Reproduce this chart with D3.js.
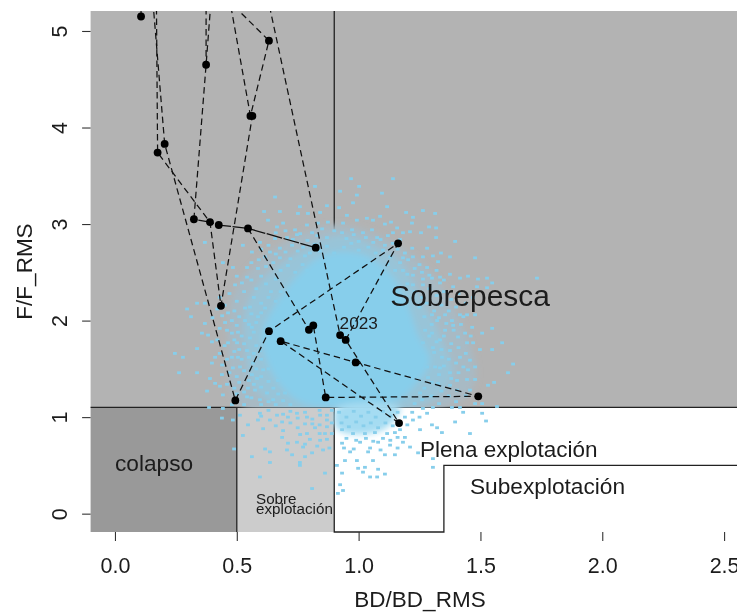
<!DOCTYPE html>
<html><head><meta charset="utf-8">
<style>html,body{margin:0;padding:0;background:#fff;overflow:hidden}text{font-family:"Liberation Sans",Arial,sans-serif;fill:#1c1c1c}svg{filter:blur(.35px)}</style>
<script src="https://cdn.jsdelivr.net/npm/d3@7"></script></head><body>
<svg id="c" width="737" height="612"></svg>
<script>
const xTicks=[0,0.5,1,1.5,2,2.5];
const yTicks=[0,1,2,3,4,5];
const bdLimits=[-0.1,2.553];
const fLimits=[-0.19,5.207];
const bdBreaks={collapse:0.5,over:0.9,under:1.35};
const fBreaks={full:0.5,over:1.1};
const labels=["Sobrepesca","colapso","Plena explotación","Subexplotación","Sobre","explotación","2023"];

// Stock trajectory: [BD/BD_RMS, F/F_RMS]; F=6 lies above the plot and is clipped
const A=[.107,5.15],B=[.374,4.65],C=[.632,4.90],D1=[.556,4.12],D2=[.564,4.12],E=[.204,3.83],F=[.175,3.74],
G=[.324,3.05],H=[.390,3.02],I=[.426,2.99],J=[.546,2.955],K=[.824,2.755],L=[1.162,2.80],M=[.435,2.153],
N=[.632,1.89],O=[.680,1.787],P=[.796,1.905],Q=[.814,1.95],R=[.924,1.85],S=[.947,1.80],T=[.988,1.567],
U=[.865,1.204],V=[1.491,1.215],W=[.494,1.173],X=[1.166,.938];
const years=[A,B,C,D1,D2,E,F,G,H,I,J,K,L,M,N,O,P,Q,R,S,T,U,V,W,X];
const dashedPaths=[
 [J,P,Q,U,V,T,O,X,S,L,N,W,E,[.133,6]],
 [G,B,[.415,6]],
 [[.374,6],B],
 [[.168,6],F,H,M,D2],
 [[.423,6],D1,C,[.193,6]],
 [[.571,6],R],
 [[.107,6],A]
];
const nearSolidPath=[K,J,I,H,G];

// Uncertainty cloud: density outlines and single readable points
const cloudHalo=[[.924,2.99],[1.252,2.61],[1.416,2.0],[1.478,1.38],[1.375,1.12],[.513,1.12],[.464,1.80],[.493,2.32],[.657,2.75]];
const cloudOuter=[[.759,2.72],[.924,2.89],[1.067,2.78],[1.170,2.62],[1.262,2.21],[1.344,1.80],[1.385,1.44],[1.293,1.16],[.677,1.10],[.565,1.33],[.534,1.69],[.534,2.11],[.603,2.42]];
const cloudCore=[[.903,2.71],[1.026,2.68],[1.137,2.47],[1.203,2.16],[1.244,1.85],[1.293,1.59],[1.232,1.33],[1.149,1.155],[.907,1.10],[.759,1.155],[.669,1.36],[.616,1.63],[.603,1.87],[.657,2.16],[.739,2.44],[.821,2.63]];
const cloudBelow=[[.91,1.10],[1.17,1.10],[1.12,.90],[1.02,.82],[.91,.88]];
const cloudPoints=[
[1.141,3.47],[1.096,3.32],[1.117,3.18],[1.195,3.12],[1.264,3.14],[1.314,3.11],[1.223,3.07],[1.219,3.01],[1.289,2.97],[1.318,2.96],[1.318,2.86],[1.396,2.82],[1.256,2.91],[1.211,2.92],[1.182,2.91],[1.281,2.75],[1.375,2.66],[1.478,2.65],[1.338,2.70],[1.326,2.61],[1.305,2.67],[1.264,2.66],[1.223,2.66],[1.182,2.65],[1.281,2.55],[1.375,2.48],[1.416,2.44],[1.449,2.46],[1.490,2.43],[1.527,2.44],[1.548,2.39],[1.732,2.44],[1.486,2.35],[1.527,2.34],[1.388,2.35],[1.334,2.45],[1.301,2.44],[1.264,2.43],[1.223,2.47],[1.059,3.04],[1.088,3.08],[1.133,3.02],[1.141,2.91],[1.158,2.96],[1.108,3.0],[1.076,2.86],[1.108,2.78],[1.055,2.94],[1.334,2.39],[1.264,2.37],[1.223,2.37],[1.182,2.52],[1.203,2.63],
[.657,3.28],[.821,3.39],[.759,3.18],[.969,3.47],[1.002,3.39],[.924,3.34],[.993,3.30],[.977,3.22],[.920,3.17],[.952,3.09],[.870,3.19],[.842,3.12],[.792,3.11],[.751,3.11],[.677,3.13],[.612,3.13],[.628,3.04],[.690,3.01],[.665,2.97],[.739,2.94],[.788,2.99],[.833,3.01],[.936,3.01],[.993,3.04],[1.034,3.06],[.874,3.02],[.369,2.81],[.525,2.78],[.562,2.71],[.484,2.55],[.443,2.60],[.542,2.55],[.595,2.81],[.657,2.85],[.706,2.86],[.747,2.89],[.809,2.91],[.932,2.91],[.973,2.94],[1.018,2.91],[.636,2.71],[.677,2.75],[.727,2.78],[.772,2.76],[.800,2.70],[.521,2.39],[.493,2.37],[.542,2.45],[.587,2.54],[.616,2.66],[.677,2.65],
[.296,2.12],[.337,2.18],[.312,2.04],[.369,2.18],[.369,1.97],[.357,1.87],[.382,1.85],[.246,1.66],[.279,1.62],[.263,1.46],[.337,1.71],[.337,1.46],[.398,1.78],[.398,1.56],[.411,1.62],[.439,1.44],[.390,1.40],[.431,1.32],[.378,1.27],[.411,1.35],[.443,1.23],[.386,1.10],[.443,1.09],[.439,.99],[.464,2.08],[.452,1.98],[.480,1.87],[.464,1.77],[.480,1.62],[.505,1.88],[.501,1.77],[.505,1.62],[.513,1.52],[.484,1.51],[.534,2.13],[.534,2.0],[.554,2.14],[.562,1.93],[.554,1.82],[.542,1.69],[.567,1.56],[.562,1.44],[.546,1.30],[.575,1.28],[.542,1.21],[.595,1.18],[.624,1.25],[.583,1.40],[.608,1.49],[.595,1.69],[.587,2.04],[.616,2.13],[.636,1.75],[.657,1.57],[.669,1.38],[.649,1.18],[.698,1.25],[.665,2.0],[.698,2.0],
[1.589,1.77],[1.634,1.55],[1.613,1.46],[1.556,1.36],[1.531,1.33],[1.548,1.70],[1.548,1.92],[1.507,1.87],[1.466,1.93],[1.470,1.77],[1.498,1.70],[1.445,1.77],[1.416,2.06],[1.383,2.0],[1.408,1.83],[1.416,1.62],[1.457,1.59],[1.478,1.52],[1.449,1.49],[1.404,1.38],[1.445,1.39],[1.478,1.39],[1.375,1.46],[1.334,1.80],[1.375,1.69],[1.342,1.62],[1.355,1.90],[1.322,2.0],[1.301,1.87],[1.305,1.72],[1.314,1.52],[1.285,1.41],[1.326,1.35],[1.375,1.33],[1.404,1.28],[1.457,1.28],[1.478,1.14],[1.507,1.14],[1.568,1.11],[1.416,1.10],[1.383,1.10],[1.305,1.10],[1.264,1.09],[1.252,1.25],[1.281,1.52],[1.260,1.64],[1.264,1.77],[1.273,1.90],[1.355,2.06],[1.301,2.06],[1.478,2.06],[1.445,2.06],[1.388,1.95],[1.437,1.87],[1.334,1.51],
[.484,.97],[.489,.67],[.525,.81],[.513,1.02],[.595,1.04],[.546,.92],[.587,.97],[.608,.88],[.636,.97],[.686,.95],[.665,1.02],[.710,1.0],[.747,1.04],[.788,1.0],[.842,1.02],[.870,.97],[.821,.89],[.788,.83],[.862,.83],[.747,.74],[.772,.69],[.710,.73],[.686,.79],[.842,.76],[.854,.66],[.809,.63],[.706,.66],[.727,.61],[.780,.59],[.759,.53],[.759,.50],[.636,.64],[.616,.67],[.636,.53],[.562,.59],[.595,.38],[.862,.42],[.809,.26],[.924,.30],[.936,.24],[.915,.21],[.911,.50],[.932,.42],[.944,.55],[.993,.55],[.998,.47],[1.026,.48],[1.018,.43],[1.047,.38],[1.076,.38],[1.080,.46],[1.108,.41],[1.059,.55],[1.108,.61],[1.149,.61],[1.039,.64],[1.047,.68],[.965,.64],[.932,.73],[1.006,.74],[1.080,.74],[1.129,.71],[1.182,.74],[1.211,.69],[1.252,.87],[1.244,.63],[1.301,.92],[1.342,.84],[1.305,.57],[1.305,.48],[1.223,.97],[1.281,1.04],[1.322,.89],[1.149,.84],[1.190,.79],[.932,.87],[.977,.83],[1.026,.83],[1.067,.84],[1.117,.83],[1.457,.83],[1.396,.95],[1.507,1.04],[1.523,.96],[1.429,1.05],
[.66,2.91],[.70,2.93],[.73,2.84],[.76,2.90],[.79,2.83],[.83,2.88],[.85,2.95],[.87,2.86],[.90,2.93],[.95,2.85],[.98,2.89],[1.00,2.82],[1.03,2.86],[1.06,2.81],[1.09,2.84],[1.12,2.88],[1.14,2.80],[1.17,2.84],[.60,2.74],[.63,2.78],[.66,2.69],[.70,2.71],[.72,2.64],[.75,2.72],[.78,2.67],[.82,2.79],[.84,2.72],[.87,2.77],[.90,2.70],[.94,2.76],[.97,2.80],[1.00,2.73],[1.04,2.76],[1.07,2.70],[1.10,2.73],[1.13,2.66],[1.16,2.74],[1.19,2.70],[1.22,2.75],[1.25,2.58],
[.56,2.60],[.59,2.63],[.62,2.56],[.65,2.60],[.68,2.52],[.71,2.57],[.74,2.50],[.77,2.58],[.79,2.52],[1.12,2.58],[1.15,2.52],[1.17,2.60],[1.20,2.48],[1.23,2.54],[1.26,2.50],[1.29,2.47],[1.32,2.52],[1.35,2.42],
[.50,2.46],[.53,2.30],[.56,2.42],[.58,2.33],[.60,2.46],[.62,2.38],[.64,2.30],[.66,2.43],[.47,2.28],[.50,2.20],[.43,2.24],[.57,2.24],[.60,2.18],[.63,2.24],[.66,2.20],[.68,2.30],
[.42,2.12],[.45,2.16],[.49,2.10],[.51,2.04],[.56,2.07],[.58,1.98],[.60,2.08],[.44,2.05],[.40,2.03],[.48,2.00],[.43,1.92],[.46,1.90],[.50,1.95],[.52,1.84],[.55,1.96],[.42,1.80],[.45,1.74],[.49,1.80],[.51,1.70],[.53,1.76],[.57,1.88],[.58,1.74],[.43,1.66],[.46,1.60],[.49,1.68],[.52,1.60],[.55,1.62],[.57,1.66],[.60,1.60],[.44,1.54],[.47,1.46],[.50,1.42],[.53,1.48],[.55,1.38],[.58,1.50],[.60,1.42],[.63,1.50],[.46,1.34],[.49,1.30],[.51,1.36],[.53,1.26],[.57,1.34],[.60,1.31],[.63,1.37],[.65,1.30],[.67,1.24],[.50,1.24],[.56,1.20],[.60,1.13],[.63,1.16],[.66,1.13],[.69,1.17],[.72,1.13],[.53,1.13],[.48,1.13],
[1.20,2.38],[1.23,2.30],[1.26,2.24],[1.29,2.33],[1.32,2.26],[1.35,2.30],[1.38,2.22],[1.41,2.28],[1.44,2.18],[1.47,2.24],[1.25,2.14],[1.28,2.18],[1.31,2.10],[1.34,2.16],[1.37,2.10],[1.40,2.14],[1.43,2.04],[1.27,2.04],[1.30,1.96],[1.33,2.03],[1.36,1.97],[1.39,1.90],[1.42,1.96],[1.46,1.84],[1.29,1.84],[1.32,1.78],[1.35,1.84],[1.38,1.76],[1.41,1.72],[1.44,1.66],[1.31,1.67],[1.34,1.70],[1.37,1.60],[1.40,1.56],[1.43,1.52],[1.35,1.53],[1.38,1.40],[1.41,1.46],[1.33,1.44],[1.30,1.36],[1.27,1.30],[1.34,1.27],[1.37,1.22],[1.30,1.22],[1.26,1.18],[1.23,1.14],[1.33,1.14],[1.40,1.16],[1.44,1.22],
[.69,1.03],[.72,1.06],[.75,.99],[.78,1.05],[.81,.98],[.84,1.07],[.87,1.02],[.89,1.07],[.72,.94],[.75,.89],[.78,.93],[.81,.93],[.84,.92],[.87,.90],[.89,.94],[.76,.82],[.80,.77],[.84,.83],[.87,.77],[.89,.83],[.78,.72],[.83,.70],[.88,.68],[.63,1.07],[.66,.91],[.69,.86],[.60,1.01],
[.92,1.05],[.95,1.00],[.98,1.06],[1.01,1.01],[1.04,1.05],[1.07,1.00],[1.10,1.06],[1.13,1.01],[1.16,1.05],[1.19,1.00],[1.22,1.05],[1.25,1.00],[.93,.94],[.96,.90],[.99,.95],[1.02,.91],[1.05,.94],[1.08,.89],[1.11,.94],[1.14,.91],[1.17,.87],[1.20,.92],[.95,.78],[.99,.76],[1.03,.78],[1.06,.75],[1.10,.78],[1.13,.76],[1.16,.79],[.94,.68],[.98,.67],[1.09,.66],[1.16,.68]
];

const x=d3.scaleLinear().domain(bdLimits).range([90.6,737]);
const y=d3.scaleLinear().domain(fLimits).range([532,11]);
const svg=d3.select("#c");
const defs=svg.append("defs");
defs.append("clipPath").attr("id","plot").append("rect").attr("x",x(bdLimits[0])).attr("y",y(fLimits[1])).attr("width",x(bdLimits[1])-x(bdLimits[0])).attr("height",y(fLimits[0])-y(fLimits[1]));
defs.append("clipPath").attr("id","upper").append("rect").attr("x",x(bdLimits[0])).attr("y",y(fLimits[1])).attr("width",x(bdLimits[1])-x(bdLimits[0])).attr("height",y(fBreaks.over)-y(fLimits[1]));
const fl=defs.append("filter").attr("id","soft").attr("x","-20%").attr("y","-20%").attr("width","140%").attr("height","140%");
fl.append("feGaussianBlur").attr("stdDeviation",3);

const box=(bd0,bd1,f0,f1,fill)=>svg.append("rect").attr("x",x(bd0)).attr("y",y(f1)).attr("width",x(bd1)-x(bd0)).attr("height",y(f0)-y(f1)).attr("fill",fill);
box(bdLimits[0],bdLimits[1],fBreaks.over,fLimits[1],"#b3b3b3");
box(bdLimits[0],bdBreaks.collapse,fLimits[0],fBreaks.over,"#999999");
box(bdBreaks.collapse,bdBreaks.over,fLimits[0],fBreaks.over,"#cccccc");

const rule=d=>d3.line().x(p=>x(p[0])).y(p=>y(p[1]))(d);
const frame=svg.append("g").attr("fill","none").attr("stroke","#222").attr("stroke-width",1.3);
[[[bdLimits[0],fBreaks.over],[bdLimits[1],fBreaks.over]],
 [[bdBreaks.collapse,fBreaks.over],[bdBreaks.collapse,fLimits[0]]],
 [[bdBreaks.over,fLimits[1]],[bdBreaks.over,fLimits[0]],[bdBreaks.under,fLimits[0]],[bdBreaks.under,fBreaks.full],[bdLimits[1],fBreaks.full]]
].forEach(d=>frame.append("path").attr("d",rule(d)));

const g=svg.append("g").attr("clip-path","url(#plot)");
const blob=d3.line().x(p=>x(p[0])).y(p=>y(p[1])).curve(d3.curveCatmullRomClosed);
const softClip=g.append("g").attr("clip-path","url(#upper)");
const soft=softClip.append("g").attr("filter","url(#soft)");
soft.append("path").attr("d",blob(cloudHalo)).attr("fill","#a8bac4");
soft.append("path").attr("d",blob(cloudOuter)).attr("fill","#98c4d8");
soft.append("path").attr("d",blob(cloudCore)).attr("fill","#87ceeb");
g.append("g").attr("filter","url(#soft)").append("path").attr("d",blob(cloudBelow)).attr("fill","#a5dcf2");
g.append("g").selectAll("rect").data(cloudPoints).join("rect")
 .attr("x",d=>x(d[0])-1.9).attr("y",d=>y(d[1])-1.4).attr("width",3.8).attr("height",2.8).attr("fill","#87ceeb");

const traj=g.append("g").attr("fill","none").attr("stroke","#111").attr("stroke-width",1.25);
dashedPaths.forEach(d=>traj.append("path").attr("d",rule(d)).attr("stroke-dasharray","6.5 4"));
traj.append("path").attr("d",rule(nearSolidPath)).attr("stroke-dasharray","16 1.5");
g.append("g").selectAll("circle").data(years).join("circle").attr("cx",d=>x(d[0])).attr("cy",d=>y(d[1])).attr("r",3.9).attr("fill","#000");

const ax=svg.append("g").attr("transform",`translate(0,${y(fLimits[0])})`).call(d3.axisBottom(x).tickValues(xTicks).tickFormat(d3.format(".1f")).tickSize(9).tickPadding(0));
ax.select(".domain").remove();
ax.selectAll("line").attr("stroke","#333").attr("stroke-width",1.1);
ax.selectAll("text").attr("y",41).attr("dy",0).attr("font-size",21.5).attr("fill","#1c1c1c").attr("font-family",'"Liberation Sans"');
const ay=svg.append("g").attr("transform",`translate(${x(bdLimits[0])},0)`).call(d3.axisLeft(y).tickValues(yTicks).tickFormat(d3.format("d")).tickSize(8.5));
ay.select(".domain").remove();
ay.selectAll("line").attr("stroke","#333").attr("stroke-width",1.1);
ay.selectAll("text").attr("x",0).attr("dy",0).attr("transform","translate(-24,0) rotate(-90)").attr("text-anchor","middle").attr("font-size",21.5).attr("fill","#1c1c1c").attr("font-family",'"Liberation Sans"');

const label=(s,bd,f,size)=>svg.append("text").attr("x",x(bd)).attr("y",y(f)).attr("font-size",size).text(s);
label(labels[0],1.13,2.147,29.9);
label(labels[1],0,.44,22.7);
label(labels[2],1.252,.587,22.5);
label(labels[3],1.457,.2,22.7);
label(labels[4],.579,.098,15.2);
label(labels[5],.579,-.005,15.2);
label(labels[6],.922,1.914,17.2);
svg.append("text").attr("x",420).attr("y",607).attr("text-anchor","middle").attr("font-size",22.5).text("BD/BD_RMS");
svg.append("text").attr("transform","translate(31.5,271.5) rotate(-90)").attr("text-anchor","middle").attr("font-size",22.5).text("F/F_RMS");
</script></body></html>
